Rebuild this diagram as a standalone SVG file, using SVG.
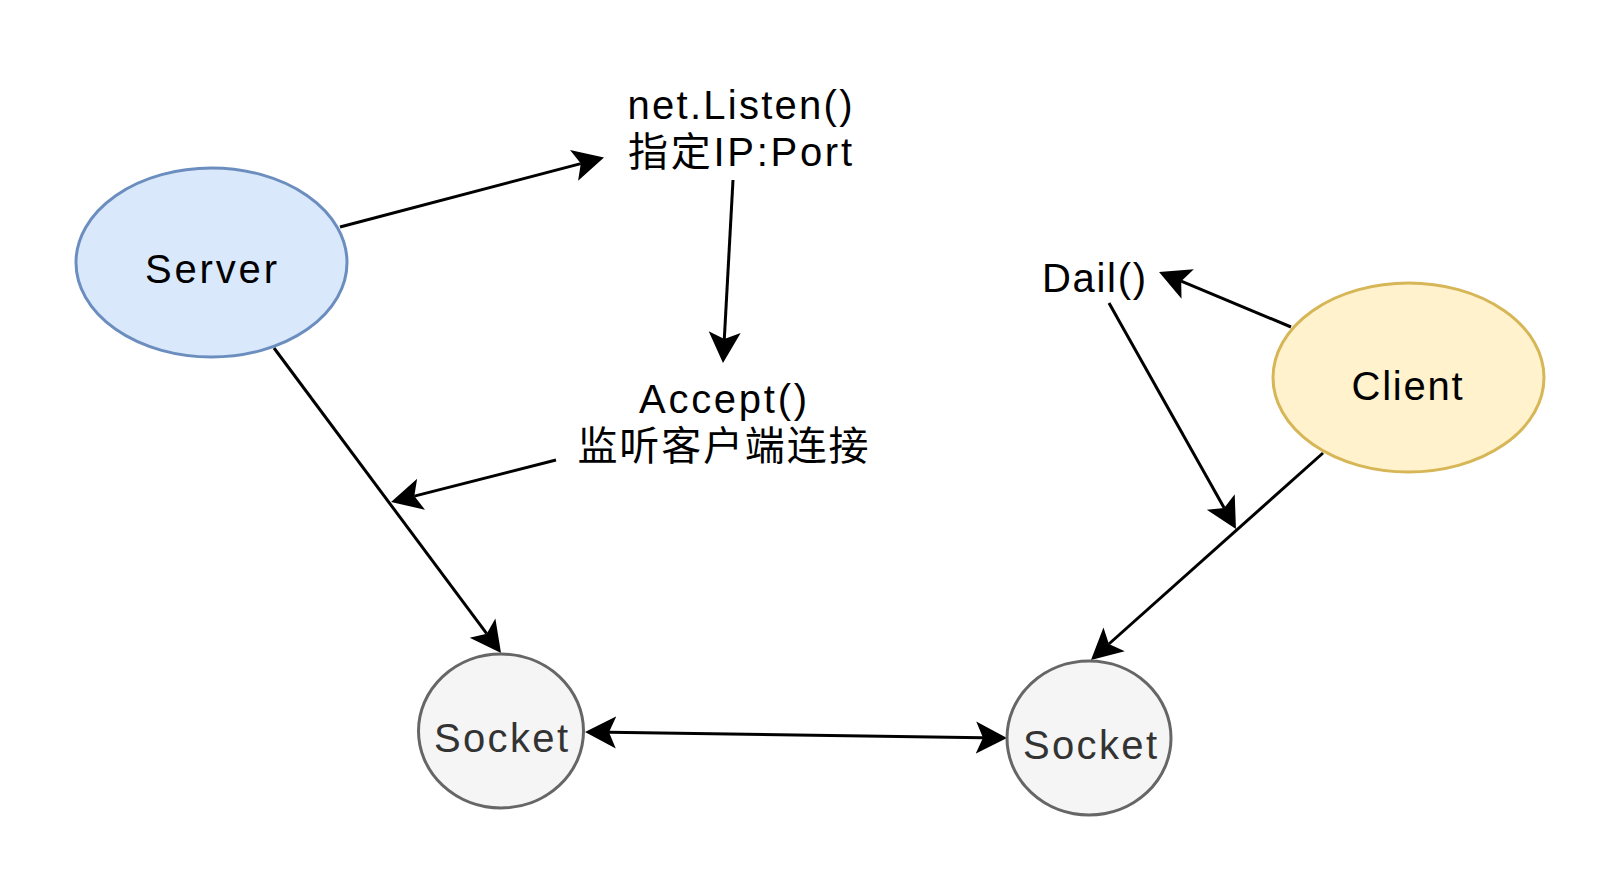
<svg xmlns="http://www.w3.org/2000/svg" width="1614" height="874" viewBox="0 0 1614 874">
<style>
text{font-family:"Liberation Sans","Noto Sans CJK SC",sans-serif;font-size:40px;fill:#000;text-anchor:middle}
.sock text{fill:#333333}
.edge{stroke:#000;stroke-width:3;fill:none}
</style>
<defs>
<marker id="ah" markerUnits="userSpaceOnUse" markerWidth="34" markerHeight="36" viewBox="0 0 34 36" refX="7" refY="17" orient="auto-start-reverse">
<path d="M0,1 L31,17 L0,33 L7,17 Z" fill="#000"/>
</marker>
</defs>
<rect width="1614" height="874" fill="#fff"/>
<g id="connectors">
<line class="edge" x1="340" y1="227" x2="580.8" y2="163.6" marker-end="url(#ah)"/>
<line class="edge" x1="733" y1="180" x2="724.3" y2="339" marker-end="url(#ah)"/>
<line class="edge" x1="274" y1="348" x2="486.7" y2="633.7" marker-end="url(#ah)"/>
<line class="edge" x1="556" y1="460" x2="414.3" y2="496.1" marker-end="url(#ah)"/>
<line class="edge" x1="1291" y1="327" x2="1181.2" y2="281.2" marker-end="url(#ah)"/>
<line class="edge" x1="1109" y1="303" x2="1224.2" y2="508.1" marker-end="url(#ah)"/>
<line class="edge" x1="1323" y1="453" x2="1108.9" y2="644" marker-end="url(#ah)"/>
<line class="edge" x1="609" y1="732.3" x2="983" y2="737.7" marker-start="url(#ah)" marker-end="url(#ah)"/>
</g>
<g id="server">
<ellipse cx="211.5" cy="262.5" rx="135.5" ry="94.5" fill="#dae8fc" stroke="#6c8ebf" stroke-width="3"/>
<text x="211" y="283" textLength="132" lengthAdjust="spacing">Server</text>
</g>
<g id="client">
<ellipse cx="1408.5" cy="377.5" rx="135.5" ry="94.5" fill="#fff2cc" stroke="#d6b656" stroke-width="3"/>
<text x="1407" y="400" textLength="111" lengthAdjust="spacing">Client</text>
</g>
<g id="socket-left" class="sock">
<ellipse cx="501" cy="731" rx="82.5" ry="77" fill="#f5f5f5" stroke="#666666" stroke-width="3"/>
<text x="501" y="752" textLength="134" lengthAdjust="spacing">Socket</text>
</g>
<g id="socket-right" class="sock">
<ellipse cx="1089" cy="738" rx="82" ry="77" fill="#f5f5f5" stroke="#666666" stroke-width="3"/>
<text x="1090" y="759" textLength="134" lengthAdjust="spacing">Socket</text>
</g>
<g id="listen">
<text x="740" y="119" textLength="225" lengthAdjust="spacing">net.Listen()</text>
<text x="740" y="166" textLength="224" lengthAdjust="spacing">指定IP:Port</text>
</g>
<g id="accept">
<text x="723" y="413" textLength="168" lengthAdjust="spacing">Accept()</text>
<text x="723" y="460" textLength="291" lengthAdjust="spacing">监听客户端连接</text>
</g>
<g id="dail">
<text x="1094" y="292" textLength="104" lengthAdjust="spacing">Dail()</text>
</g>
</svg>
